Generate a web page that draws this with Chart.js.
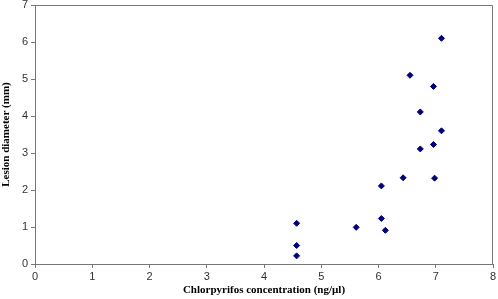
<!DOCTYPE html>
<html>
<head>
<meta charset="utf-8">
<script src="https://cdn.jsdelivr.net/npm/chart.js@4"></script>
<style>
  html, body { margin: 0; padding: 0; background: #fff; }
  #wrap { width: 498px; height: 299px; }
</style>
</head>
<body>
<div id="wrap"><canvas id="scatter-chart"></canvas></div>
<script>
// concentration (ng/ul) vs lesion diameter (mm)
var concentration = [4.57, 4.57, 4.57, 5.61, 6.05, 6.12, 6.05, 6.43, 6.98, 6.73, 6.96, 7.10, 6.73, 6.96, 6.55, 7.10];
var lesionDiameter = [0.22, 0.50, 1.10, 0.99, 1.23, 0.91, 2.11, 2.33, 2.32, 3.11, 3.23, 3.60, 4.11, 4.80, 5.10, 6.10];
var xTicks = [0, 1, 2, 3, 4, 5, 6, 7, 8];
var yTicks = [0, 1, 2, 3, 4, 5, 6, 7];

var points = concentration.map(function(x, i) { return { x: x, y: lesionDiameter[i] }; });

// plot frame on top/right like the original
var frame = {
  id: 'frame',
  afterDraw: function(chart) {
    var a = chart.chartArea, ctx = chart.ctx;
    ctx.save();
    ctx.strokeStyle = '#777';
    ctx.lineWidth = 1;
    ctx.beginPath();
    ctx.moveTo(Math.round(a.left) + 0.5, Math.round(a.top) + 0.5);
    ctx.lineTo(Math.round(a.right) - 0.5, Math.round(a.top) + 0.5);
    ctx.lineTo(Math.round(a.right) - 0.5, Math.round(a.bottom) + 0.5);
    ctx.stroke();
    ctx.restore();
  }
};

var tickFont = { family: 'Liberation Sans, Arial, sans-serif', size: 11 };
var titleFont = { family: 'Liberation Serif, Times New Roman, serif', size: 11, weight: 'bold' };

new Chart(document.getElementById('scatter-chart'), {
  type: 'scatter',
  data: {
    datasets: [{
      data: points,
      pointStyle: 'rectRot',
      pointRadius: 3,
      pointBorderWidth: 1,
      backgroundColor: '#00007a',
      borderColor: '#00007a'
    }]
  },
  plugins: [frame],
  options: {
    responsive: true,
    maintainAspectRatio: false,
    animation: false,
    layout: { padding: { top: 5, right: 4, left: 0, bottom: 0 } },
    plugins: { legend: { display: false }, tooltip: { enabled: false } },
    scales: {
      x: {
        type: 'linear',
        min: xTicks[0],
        max: xTicks[xTicks.length - 1],
        afterBuildTicks: function(s) { s.ticks = xTicks.map(function(v) { return { value: v }; }); },
        afterFit: function(s) { s.height = 35; s.paddingLeft = 0; s.paddingRight = 0; },
        grid: { display: true, drawOnChartArea: false, tickLength: 4, color: '#777' },
        border: { color: '#777' },
        ticks: { font: tickFont, color: '#333', padding: 2, maxRotation: 0 },
        title: { display: true, text: 'Chlorpyrifos concentration (ng/µl)', font: titleFont, color: '#000', padding: { top: 0, bottom: 2 } }
      },
      y: {
        type: 'linear',
        min: yTicks[0],
        max: yTicks[yTicks.length - 1],
        afterBuildTicks: function(s) { s.ticks = yTicks.map(function(v) { return { value: v }; }); },
        afterFit: function(s) { s.width = 35; s.paddingTop = 0; s.paddingBottom = 0; },
        grid: { display: true, drawOnChartArea: false, tickLength: 4, color: '#777' },
        border: { color: '#777' },
        ticks: { font: tickFont, color: '#333', padding: 3 },
        title: { display: true, text: 'Lesion diameter (mm)', font: titleFont, color: '#000', padding: 0 }
      }
    }
  }
});
</script>
</body>
</html>
